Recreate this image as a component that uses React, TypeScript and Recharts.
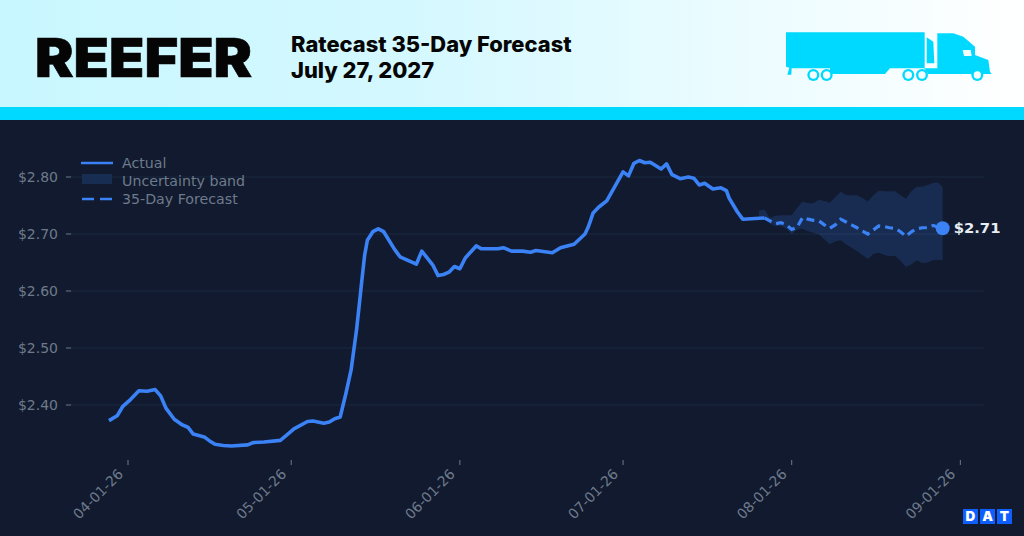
import { ComposedChart, Area, Line, XAxis, YAxis, CartesianGrid, ReferenceDot } from 'recharts';

// x values are days counted from 04-01-26
const actualDays = [
  -3.5, -2, -1, 0.5, 2, 3.5, 5, 6, 7, 8.5, 10, 11, 12, 14, 15, 16, 17.5, 19, 22, 23, 25, 28, 29, 30.5, 33, 34, 36, 37,
  38, 39, 40, 41, 41.5, 42, 42.5, 43, 43.5, 44, 45, 46, 47, 49, 50, 53, 54, 56, 57, 58, 59, 60, 61, 62, 64, 65, 68, 69,
  70.5, 72.5, 74, 75, 78, 79.5, 82, 84, 84.5, 85, 85.5, 86.5, 88, 91, 92, 93, 94, 95, 96, 98, 99, 100, 101.5, 103, 104,
  105, 106, 107.5, 109, 110, 110.5, 112, 113, 117,
];
const actualValues = [
  2.3725, 2.381, 2.397, 2.41, 2.425, 2.424, 2.427, 2.416, 2.394, 2.375, 2.365, 2.361, 2.349, 2.344, 2.337, 2.331,
  2.329, 2.328, 2.33, 2.334, 2.335, 2.338, 2.346, 2.358, 2.371, 2.372, 2.368, 2.37, 2.376, 2.379, 2.418, 2.461, 2.496,
  2.531, 2.575, 2.62, 2.663, 2.689, 2.704, 2.709, 2.704, 2.673, 2.66, 2.647, 2.67, 2.646, 2.627, 2.629, 2.633, 2.643,
  2.639, 2.658, 2.679, 2.674, 2.674, 2.676, 2.67, 2.67, 2.668, 2.671, 2.667, 2.676, 2.682, 2.7, 2.71, 2.723, 2.737,
  2.747, 2.758, 2.809, 2.802, 2.824, 2.829, 2.825, 2.826, 2.814, 2.823, 2.804, 2.797, 2.8, 2.798, 2.786, 2.789, 2.779,
  2.781, 2.776, 2.763, 2.739, 2.726, 2.728,
];

const forecastDays = [
  116, 117, 118, 119, 120, 121, 122, 123, 124, 125, 126, 127, 128, 129, 130, 131, 132, 133, 134, 135, 136, 137, 138,
  139, 140, 141, 142, 143, 144, 145, 146, 147, 148, 149, 149.75,
];
const forecastValues = [
  null, 2.728, 2.723, 2.718, 2.72, 2.716, 2.708, 2.712, 2.729, 2.726, 2.724, 2.723, 2.716, 2.71, 2.716, 2.726, 2.721,
  2.716, 2.711, 2.705, 2.7, 2.707, 2.714, 2.713, 2.711, 2.71, 2.704, 2.696, 2.704, 2.709, 2.711, 2.711, 2.715, 2.712,
  2.71,
];
const bandUpper = [
  2.741, 2.743, 2.728, 2.732, 2.733, 2.733, 2.733, 2.746, 2.757, 2.754, 2.754, 2.76, 2.758, 2.755, 2.765, 2.774, 2.768,
  2.768, 2.768, 2.763, 2.757, 2.768, 2.776, 2.775, 2.775, 2.775, 2.768, 2.762, 2.775, 2.783, 2.783, 2.786, 2.79, 2.79,
  2.782,
];
const bandLower = [
  2.728, 2.726, 2.718, 2.714, 2.714, 2.709, 2.7, 2.708, 2.709, 2.705, 2.702, 2.699, 2.691, 2.682, 2.687, 2.689, 2.682,
  2.676, 2.67, 2.663, 2.656, 2.665, 2.667, 2.663, 2.661, 2.662, 2.653, 2.642, 2.647, 2.654, 2.649, 2.65, 2.654, 2.655,
  2.654,
];

const xTicks = [0, 30, 61, 91, 122, 153];
const xTickLabels = ['04-01-26', '05-01-26', '06-01-26', '07-01-26', '08-01-26', '09-01-26'];
const yTicks = [2.4, 2.5, 2.6, 2.7, 2.8];
const lastDay = 149.75;
const lastValue = 2.71;

const BLUE = '#3b82f6';
const GREY = '#6e7a8c';
const PLOT_FONT = '"DejaVu Sans", sans-serif';

// one row per day so the line and the band share an x scale
const rows = new Map<number, any>();
const rowFor = (day: number) => {
  if (!rows.has(day)) rows.set(day, { day });
  return rows.get(day);
};
actualDays.forEach((d, i) => {
  rowFor(d).actual = actualValues[i];
});
forecastDays.forEach((d, i) => {
  const row = rowFor(d);
  row.forecast = forecastValues[i];
  row.band = [bandLower[i], bandUpper[i]];
});
const chartData = [...rows.values()].sort((a, b) => a.day - b.day);

function DateTick({ x, y, payload }: any) {
  const label = xTickLabels[xTicks.indexOf(payload.value)];
  return (
    <text
      x={x - 4}
      y={y + 8}
      textAnchor="end"
      fontSize={14}
      fontFamily={PLOT_FONT}
      fill={GREY}
      transform={`rotate(-45 ${x - 4} ${y + 8})`}
    >
      {label}
    </text>
  );
}

function EndLabel({ viewBox }: any) {
  return (
    <text
      x={viewBox.x + viewBox.width / 2 + 11}
      y={viewBox.y + viewBox.height / 2 + 5}
      fontSize={14.8}
      fontWeight={700}
      fontFamily={PLOT_FONT}
      fill="#e8edf3"
    >
      {`$${lastValue.toFixed(2)}`}
    </text>
  );
}

function Header() {
  return (
    <div style={{ position: 'absolute', left: 0, top: 0, width: 1024, height: 120 }}>
      <div
        style={{
          position: 'absolute',
          left: 0,
          top: 0,
          width: 1024,
          height: 107,
          background: 'linear-gradient(90deg, #c9f7ff 0%, #d4f8ff 40%, #ffffff 100%)',
        }}
      />
      <div style={{ position: 'absolute', left: 0, top: 107, width: 1024, height: 13, background: '#00d9ff' }} />
      <div
        style={{
          position: 'absolute',
          left: 35,
          top: 25,
          fontFamily: 'Inter, sans-serif',
          fontWeight: 900,
          fontSize: 54,
          lineHeight: '65px',
          color: '#050505',
          WebkitTextStroke: '0.6px #050505',
          transform: 'scaleX(1.07)',
          transformOrigin: 'left center',
        }}
      >
        REEFER
      </div>
      <div
        style={{
          position: 'absolute',
          left: 291,
          top: 32,
          fontFamily: 'Inter, sans-serif',
          fontWeight: 800,
          fontSize: 21.9,
          lineHeight: '25.5px',
          color: '#050505',
          whiteSpace: 'nowrap',
        }}
      >
        Ratecast 35-Day Forecast
        <br />
        July 27, 2027
      </div>
      <svg
        viewBox="0 0 912 390"
        width={304}
        height={130}
        style={{ position: 'absolute', left: 720, top: 0 }}
      >
        <g fill="#00d9ff">
          <path d="M198 97 H614 V205 H510 L495 222 H330 V205 H215 L214 224 H202 L208 203 L198 200 Z" />
          <path d="M620 112 L640 125 L643 190 H620 Z" />
          <path d="M652 100 H700 L730 110 L765 140 V165 L805 180 L810 215 L815 222 H625 L612 205 H652 Z" />
          <circle cx={280} cy={225} r={18} />
          <circle cx={320} cy={225} r={18} />
          <circle cx={565} cy={225} r={18} />
          <circle cx={606} cy={225} r={18} />
          <circle cx={772} cy={225} r={18} />
        </g>
        <g fill="#f5feff">
          <path d="M728 150 H752 L755 168 H732 Z" />
          <circle cx={280} cy={225} r={11} />
          <circle cx={320} cy={225} r={11} />
          <circle cx={565} cy={225} r={11} />
          <circle cx={606} cy={225} r={11} />
          <circle cx={772} cy={225} r={11} />
        </g>
      </svg>
    </div>
  );
}

function ChartLegend() {
  const labelStyle: React.CSSProperties = {
    position: 'absolute',
    left: 122,
    fontFamily: PLOT_FONT,
    fontSize: 14.2,
    lineHeight: '18px',
    color: GREY,
    whiteSpace: 'nowrap',
  };
  return (
    <>
      <svg width={40} height={60} style={{ position: 'absolute', left: 78, top: 152 }}>
        <line x1={3} x2={35} y1={11} y2={11} stroke={BLUE} strokeWidth={2.5} />
        <rect x={4} y={22} width={30} height={10} fill="#182d52" />
        <line x1={4} x2={35} y1={47} y2={47} stroke={BLUE} strokeWidth={2.5} strokeDasharray="12 6" />
      </svg>
      <div style={{ ...labelStyle, top: 154 }}>Actual</div>
      <div style={{ ...labelStyle, top: 172 }}>Uncertainty band</div>
      <div style={{ ...labelStyle, top: 190 }}>35-Day Forecast</div>
    </>
  );
}

function DatLogo() {
  const letters = ['D', 'A', 'T'];
  return (
    <>
      {letters.map((l, i) => (
        <div
          key={l}
          style={{
            position: 'absolute',
            left: 963 + i * 17,
            top: 509,
            width: 15,
            height: 15,
            background: '#0f5fff',
            color: '#fff',
            fontFamily: 'Inter, sans-serif',
            fontWeight: 900,
            fontSize: 13.5,
            lineHeight: '15px',
            textAlign: 'center',
          }}
        >
          {l}
        </div>
      ))}
    </>
  );
}

export default function App() {
  return (
    <div
      style={{ position: 'absolute', left: 0, top: 0, width: 1024, height: 536, overflow: 'hidden', background: '#111a2e' }}
    >
      <Header />
      <div style={{ position: 'absolute', left: 0, top: 120 }}>
        <ComposedChart
          width={1024}
          height={416}
          data={chartData}
          margin={{ top: 28.5, right: 40, bottom: 0, left: 0 }}
        >
          <CartesianGrid vertical={false} syncWithTicks stroke="#1b2940" strokeWidth={1} />
          <XAxis
            dataKey="day"
            type="number"
            domain={[-10.48, 157.35]}
            ticks={xTicks}
            height={76}
            axisLine={false}
            tickSize={5}
            tickLine={{ stroke: GREY }}
            tick={<DateTick />}
            interval={0}
          />
          <YAxis
            type="number"
            domain={[2.3035, 2.85]}
            ticks={yTicks}
            width={71}
            axisLine={false}
            tickSize={5}
            tickMargin={8}
            tickLine={{ stroke: GREY }}
            tick={{ fill: GREY, fontSize: 14, fontFamily: PLOT_FONT }}
            tickFormatter={(v: number) => `$${v.toFixed(2)}`}
          />
          <Area
            dataKey="band"
            type="linear"
            stroke="none"
            fill={BLUE}
            fillOpacity={0.18}
            connectNulls
            dot={false}
            activeDot={false}
            isAnimationActive={false}
          />
          <Line
            dataKey="actual"
            type="linear"
            stroke={BLUE}
            strokeWidth={3.6}
            strokeLinejoin="round"
            connectNulls
            dot={false}
            activeDot={false}
            isAnimationActive={false}
          />
          <Line
            dataKey="forecast"
            type="linear"
            stroke={BLUE}
            strokeWidth={3.2}
            strokeDasharray="8 5"
            connectNulls
            dot={false}
            activeDot={false}
            isAnimationActive={false}
          />
          <ReferenceDot x={lastDay} y={lastValue} r={7} fill={BLUE} stroke="none" label={<EndLabel />} />
        </ComposedChart>
      </div>
      <ChartLegend />
      <DatLogo />
    </div>
  );
}
